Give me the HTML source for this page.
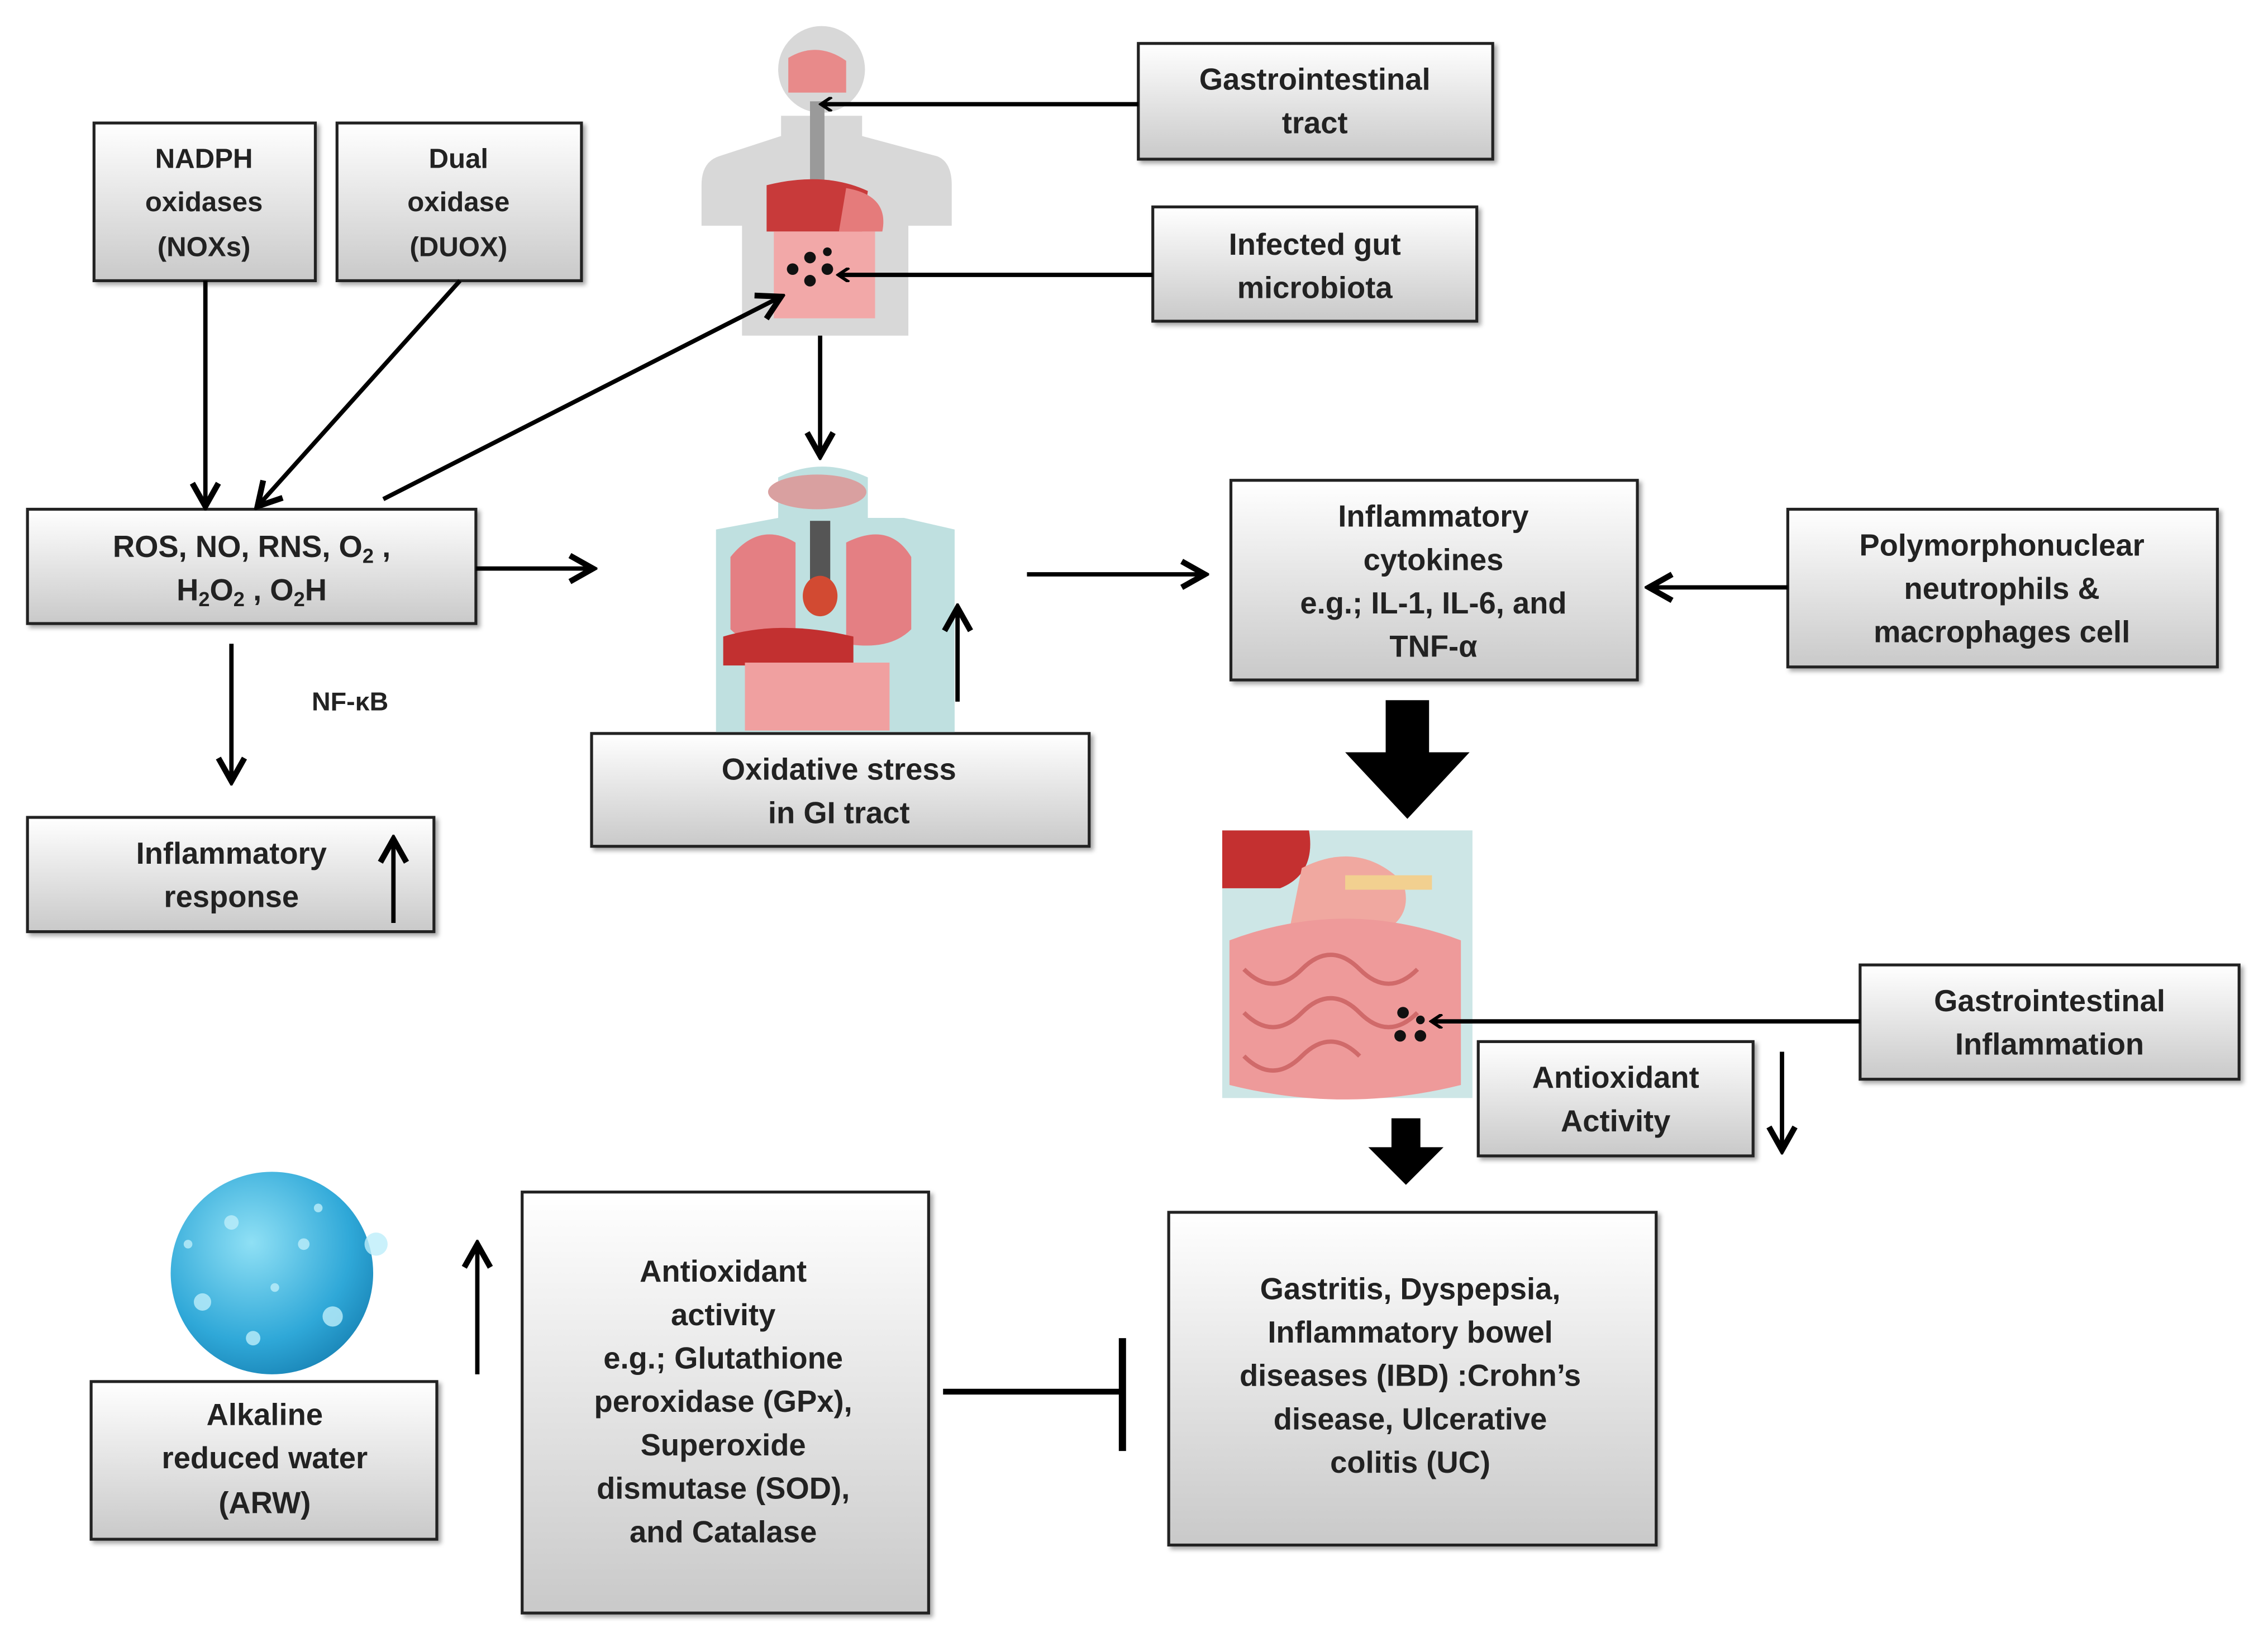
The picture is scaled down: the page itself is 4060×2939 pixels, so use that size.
<!DOCTYPE html>
<html><head><meta charset="utf-8"><style>
html,body{margin:0;padding:0;background:#fff}
svg{display:block}
text{font-family:"Liberation Sans",sans-serif;font-weight:bold;fill:#222;text-anchor:middle}
</style></head><body>
<svg width="4060" height="2939" viewBox="0 0 1568 1135" xmlns="http://www.w3.org/2000/svg">
<defs>
<linearGradient id="g" x1="0" y1="0" x2="0" y2="1"><stop offset="0" stop-color="#ffffff"/><stop offset="1" stop-color="#c9c9c9"/></linearGradient>
<marker id="a" markerWidth="10" markerHeight="10" refX="8" refY="5" orient="auto" markerUnits="userSpaceOnUse" viewBox="0 0 10 10"><path d="M1,0 L8.5,5 L1,10" fill="none" stroke="#000" stroke-width="2.2"/></marker>
<marker id="b" markerWidth="22" markerHeight="22" refX="19" refY="11" orient="auto" markerUnits="userSpaceOnUse" viewBox="0 0 22 22"><path d="M3,2 L19,11 L3,20" fill="none" stroke="#000" stroke-width="4"/></marker>
<radialGradient id="w" cx="0.4" cy="0.35" r="0.7"><stop offset="0" stop-color="#8fe0f5"/><stop offset="0.7" stop-color="#2fa8d8"/><stop offset="1" stop-color="#1a86b8"/></radialGradient>
<filter id="s"><feDropShadow dx="2" dy="2" stdDeviation="1.5" flood-color="#000" flood-opacity="0.35"/></filter>
</defs>
<g stroke="#222" stroke-width="2" fill="url(#g)" filter="url(#s)">
<rect x="787" y="30" width="245" height="80"/>
<rect x="65" y="85" width="153" height="109"/>
<rect x="233" y="85" width="169" height="109"/>
<rect x="797" y="143" width="224" height="79"/>
<rect x="19" y="352" width="310" height="79"/>
<rect x="851" y="332" width="281" height="138"/>
<rect x="1236" y="352" width="297" height="109"/>
<rect x="409" y="507" width="344" height="78"/>
<rect x="19" y="565" width="281" height="79"/>
<rect x="1286" y="667" width="262" height="79"/>
<rect x="1022" y="720" width="190" height="79"/>
<rect x="63" y="955" width="239" height="109"/>
<rect x="361" y="824" width="281" height="291"/>
<rect x="808" y="838" width="337" height="230"/>
</g>
<!-- body 1 -->
<g>
<circle cx="568" cy="48" r="30" fill="#d8d8d8"/>
<path d="M540,80 h56 v14 l52,14 q10,4 10,20 v28 h-30 v76 h-115 v-76 h-28 v-28 q0-16 12-20 l43-14z" fill="#d8d8d8"/>
<path d="M545,40 q20-12 40,2 v22 h-40z" fill="#e88a8a"/>
<rect x="560" y="70" width="10" height="60" fill="#9a9a9a"/>
<path d="M530,128 q40-10 70,4 l-4,28 h-66z" fill="#c83a3a"/>
<path d="M535,160 h70 v60 h-70z" fill="#f2a8a8"/>
<path d="M585,130 q30 5 25 30 h-30z" fill="#e57b7b"/>
<g fill="#111"><circle cx="560" cy="178" r="4"/><circle cx="572" cy="186" r="4"/><circle cx="560" cy="194" r="4"/><circle cx="548" cy="186" r="4"/><circle cx="572" cy="174" r="3"/></g>
</g>
<!-- body 2 -->
<g>
<path d="M538,330 q30-15 62,0 v28 h25 l35,8 v140 h-165 v-140 l43-8z" fill="#bfe0e0"/>
<ellipse cx="565" cy="340" rx="34" ry="12" fill="#d9a0a0"/>
<path d="M505,385 q20-25 45-10 v70 q-30 5-45-10z" fill="#e47f83"/>
<path d="M585,375 q30-15 45,10 v50 q-15 15-45 10z" fill="#e47f83"/>
<rect x="560" y="360" width="14" height="50" fill="#555"/>
<ellipse cx="567" cy="412" rx="12" ry="14" fill="#d24a32"/>
<path d="M500,440 q40-12 90,0 v20 h-90z" fill="#c23030"/>
<path d="M515,458 h100 v47 h-100z" fill="#f0a0a0"/>
</g>
<!-- intestines -->
<g>
<rect x="845" y="574" width="173" height="185" fill="#cde6e6"/>
<path d="M845,574 h60 q5 30-20 40 h-40z" fill="#c43030"/>
<path d="M900,600 q40-20 70,10 q10 30-30 40 h-50 z" fill="#f0a8a0"/>
<path d="M930,605 h60 v10 h-60z" fill="#f2d090"/>
<path d="M850,650 q80-30 160,0 v100 q-80 20-160 0z" fill="#ee9a9a"/>
<path d="M860,670 q20 20 40 0 q20-20 40 0 q20 20 40 0 M860,700 q20 20 40 0 q20-20 40 0 q20 20 40 0 M860,730 q20 20 40 0 q20-20 40 0" stroke="#d06a6a" stroke-width="3" fill="none"/>
<g fill="#111"><circle cx="970" cy="700" r="4"/><circle cx="968" cy="716" r="4"/><circle cx="982" cy="716" r="4"/><circle cx="982" cy="705" r="3"/></g>
</g>
<!-- water -->
<circle cx="188" cy="880" r="70" fill="url(#w)"/>
<g fill="#bdeefa" opacity="0.8"><circle cx="160" cy="845" r="5"/><circle cx="210" cy="860" r="4"/><circle cx="260" cy="860" r="8"/><circle cx="140" cy="900" r="6"/><circle cx="230" cy="910" r="7"/><circle cx="190" cy="890" r="3"/><circle cx="175" cy="925" r="5"/><circle cx="130" cy="860" r="3"/><circle cx="220" cy="835" r="3"/></g>
<!-- arrows -->
<g stroke="#000" stroke-width="3" fill="none">
<line x1="787" y1="72" x2="568" y2="72" marker-end="url(#a)"/>
<line x1="797" y1="190" x2="580" y2="190" marker-end="url(#a)"/>
<line x1="142" y1="194" x2="142" y2="350" marker-end="url(#b)"/>
<line x1="318" y1="194" x2="178" y2="350" marker-end="url(#b)"/>
<line x1="265" y1="345" x2="540" y2="205" marker-end="url(#b)"/>
<line x1="567" y1="232" x2="567" y2="315" marker-end="url(#b)"/>
<line x1="329" y1="393" x2="410" y2="393" marker-end="url(#b)"/>
<line x1="710" y1="397" x2="833" y2="397" marker-end="url(#b)"/>
<line x1="1236" y1="406" x2="1140" y2="406" marker-end="url(#b)"/>
<line x1="160" y1="445" x2="160" y2="540" marker-end="url(#b)"/>
<line x1="272" y1="638" x2="272" y2="580" marker-end="url(#b)"/>
<line x1="662" y1="485" x2="662" y2="420" marker-end="url(#b)"/>
<line x1="1286" y1="706" x2="990" y2="706" marker-end="url(#a)"/>
<line x1="1232" y1="727" x2="1232" y2="795" marker-end="url(#b)"/>
<line x1="330" y1="950" x2="330" y2="860" marker-end="url(#b)"/>
<line x1="652" y1="962" x2="776" y2="962" stroke-width="4"/>
<line x1="776" y1="925" x2="776" y2="1003" stroke-width="5"/>
</g>
<path d="M958,484 h30 v36 h28 l-43,46 l-43-46 h28z" fill="#000"/>
<path d="M962,773 h20 v20 h16 l-26,26 l-26-26 h16z" fill="#000"/>
<!-- text -->
<g font-size="21">
<text x="909" y="62">Gastrointestinal</text><text x="909" y="92">tract</text>
<text x="141" y="116" font-size="19">NADPH</text><text x="141" y="146" font-size="19">oxidases</text><text x="141" y="177" font-size="19">(NOXs)</text>
<text x="317" y="116" font-size="19">Dual</text><text x="317" y="146" font-size="19">oxidase</text><text x="317" y="177" font-size="19">(DUOX)</text>
<text x="909" y="176">Infected gut</text><text x="909" y="206">microbiota</text>
<text x="174" y="385">ROS, NO, RNS, O<tspan font-size="14" dy="4">2</tspan><tspan dy="-4"> ,</tspan></text>
<text x="174" y="415">H<tspan font-size="14" dy="4">2</tspan><tspan dy="-4">O</tspan><tspan font-size="14" dy="4">2</tspan><tspan dy="-4"> , O</tspan><tspan font-size="14" dy="4">2</tspan><tspan dy="-4">H</tspan></text>
<text x="991" y="364">Inflammatory</text><text x="991" y="394">cytokines</text><text x="991" y="424">e.g.; IL-1, IL-6, and</text><text x="991" y="454">TNF-α</text>
<text x="1384" y="384">Polymorphonuclear</text><text x="1384" y="414">neutrophils &amp;</text><text x="1384" y="444">macrophages cell</text>
<text x="580" y="539">Oxidative stress</text><text x="580" y="569">in GI tract</text>
<text x="242" y="491" font-size="18">NF-κB</text>
<text x="160" y="597">Inflammatory</text><text x="160" y="627">response</text>
<text x="1417" y="699">Gastrointestinal</text><text x="1417" y="729">Inflammation</text>
<text x="1117" y="752">Antioxidant</text><text x="1117" y="782">Activity</text>
<text x="183" y="985">Alkaline</text><text x="183" y="1015">reduced water</text><text x="183" y="1046">(ARW)</text>
<text x="500" y="886">Antioxidant</text><text x="500" y="916">activity</text><text x="500" y="946">e.g.; Glutathione</text><text x="500" y="976">peroxidase (GPx),</text><text x="500" y="1006">Superoxide</text><text x="500" y="1036">dismutase (SOD),</text><text x="500" y="1066">and Catalase</text>
<text x="975" y="898">Gastritis, Dyspepsia,</text><text x="975" y="928">Inflammatory bowel</text><text x="975" y="958">diseases (IBD) :Crohn’s</text><text x="975" y="988">disease, Ulcerative</text><text x="975" y="1018">colitis (UC)</text>
</g>
</svg>
</body></html>
